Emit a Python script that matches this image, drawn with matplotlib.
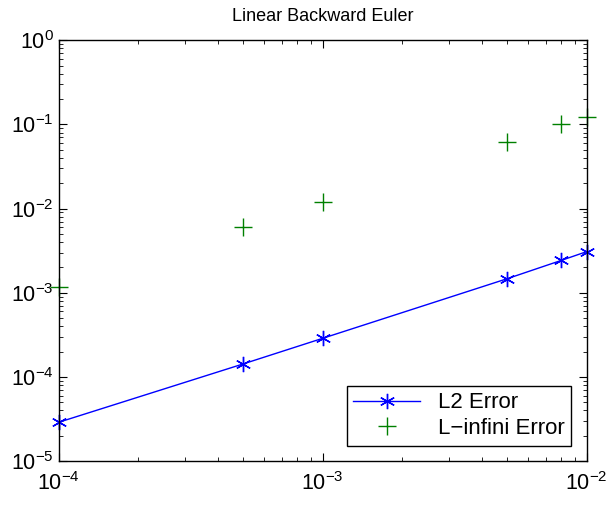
import matplotlib
matplotlib.use('Agg')
import matplotlib.pyplot as plt

plt.rcParams['font.family'] = ['Liberation Sans', 'DejaVu Sans']
plt.rcParams['mathtext.fontset'] = 'custom'
plt.rcParams['mathtext.rm'] = 'Liberation Sans'

# step sizes and errors
dt = [1e-4, 5e-4, 1e-3, 5e-3, 8e-3, 1e-2]
l2_err = [2.9e-5, 1.43e-4, 2.88e-4, 1.47e-3, 2.42e-3, 3.08e-3]
linf_err = [1.17e-3, 6.0e-3, 1.19e-2, 6.1e-2, 1.0e-1, 1.22e-1]

fig = plt.figure(figsize=(6.13, 5.09), dpi=100)
ax = fig.add_axes([0.096, 0.094, 0.861, 0.827])

ax.loglog(dt, l2_err, '-', color='blue', marker=(6, 2, 0), markersize=11,
          markeredgewidth=1.0, linewidth=1.0, label='L2 Error', clip_on=False)
ax.loglog(dt, linf_err, '+', color='green', markersize=13,
          markeredgewidth=1.0, linestyle='none', label='L\u2212infini Error', clip_on=False)

ax.set_xlim(1e-4, 1e-2)
ax.set_ylim(1e-5, 1e0)
ax.set_title('Linear Backward Euler', fontsize=13, pad=14)

ax.tick_params(which='both', direction='in', top=True, right=True, labelsize=15.5)
ax.tick_params(which='major', length=6, width=0.8)
ax.tick_params(which='minor', length=3, width=0.6)
ax.tick_params(axis='x', pad=8)
for s in ax.spines.values():
    s.set_linewidth(1.0)

leg = ax.legend(loc='lower right', fontsize=16, fancybox=False, framealpha=1,
                edgecolor='black', handlelength=3.0, borderaxespad=0.7,
                labelspacing=0.2, borderpad=0.3)
leg.get_frame().set_linewidth(1.0)

fig.savefig('out.png', dpi=100)
